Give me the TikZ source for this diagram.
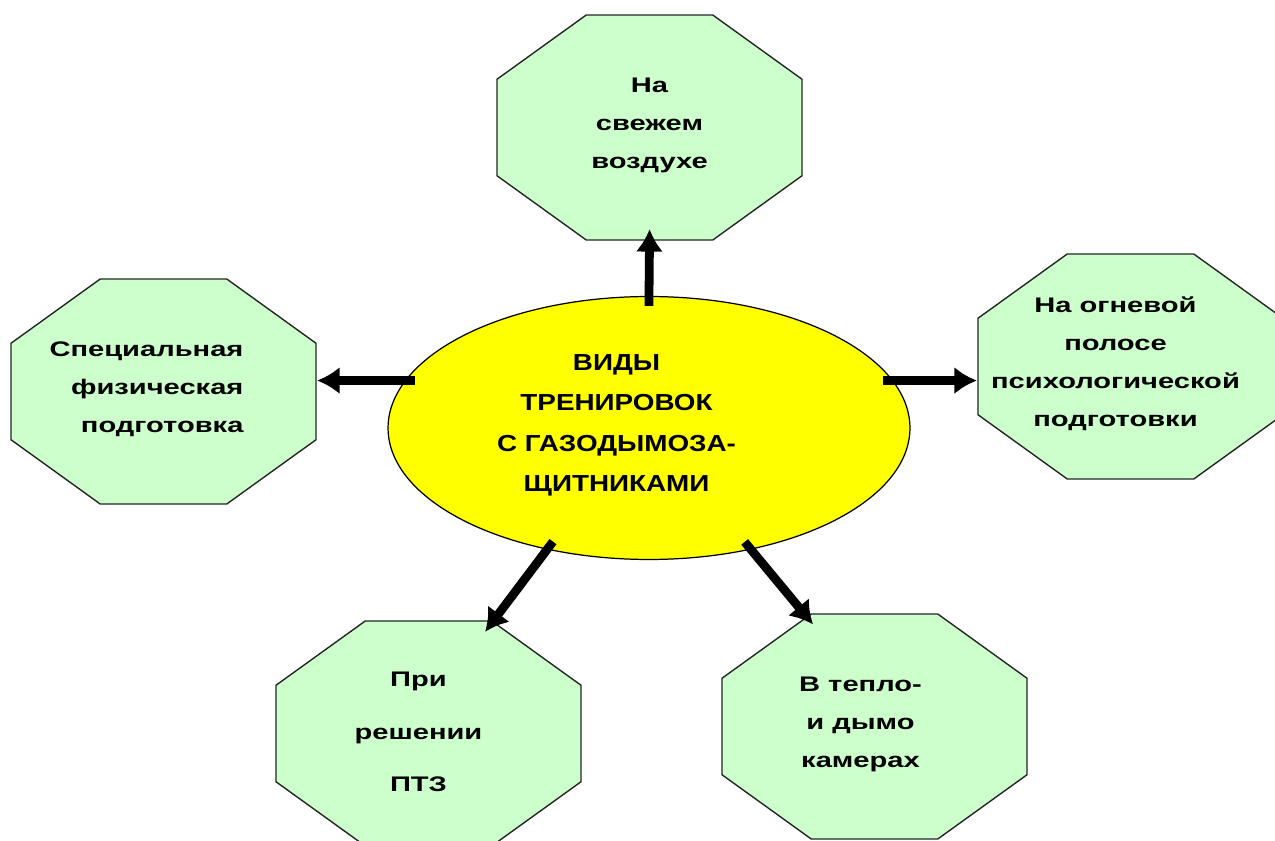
\documentclass[tikz,border=0pt]{standalone}
\usepackage{fontspec}
\setmainfont{Liberation Sans}
\newfontfamily\octfont{Liberation Sans}[FakeStretch=1.38]
\newfontfamily\hubfont{Liberation Sans}[FakeStretch=1.2]
\usetikzlibrary{shapes.geometric,arrows.meta}
\definecolor{octgreen}{RGB}{204,255,204}
\definecolor{hubyellow}{RGB}{255,255,0}
\newcommand{\nodelines}[3][c]{\raisebox{0.1cm}[\height][\depth]{\begin{tabular}{@{}#1@{}}#3\end{tabular}}\hspace*{#2}}
\tikzset{
  octa/.style={rectangle, minimum width=6.13cm, minimum height=4.53cm, inner sep=0pt,
    font=\octfont\bfseries\fontsize{12}{21.6}\selectfont,
    path picture={
      \draw[fill=octgreen, draw=black!85, line width=0.8pt]
        ([shift={(1.8cm,-0.4pt)}]path picture bounding box.north west) --
        ([shift={(-1.8cm,-0.4pt)}]path picture bounding box.north east) --
        ([shift={(-0.4pt,-1.3cm)}]path picture bounding box.north east) --
        ([shift={(-0.4pt,1.3cm)}]path picture bounding box.south east) --
        ([shift={(-1.8cm,0.4pt)}]path picture bounding box.south east) --
        ([shift={(1.8cm,0.4pt)}]path picture bounding box.south west) --
        ([shift={(0.4pt,1.3cm)}]path picture bounding box.south west) --
        ([shift={(0.4pt,-1.3cm)}]path picture bounding box.north west) -- cycle;
    }},
  hub/.style={ellipse, minimum width=10.44cm, minimum height=5.26cm,
    inner sep=0pt, draw=black, line width=0.7pt, fill=hubyellow,
    font=\hubfont\bfseries\fontsize{13.2}{22.8}\selectfont},
  link/.style={line width=5pt, shorten <=-0.2cm, -{Latex[length=0.45cm,width=0.55cm]}}
}

\begin{document}
\begin{tikzpicture}[x=0.02cm, y=-0.02cm]
      \useasboundingbox (0,0) rectangle (1275,841);
      \clip (0,0) rectangle (1275,841);
      \draw
        (649,428) node[hub] (types){\nodelines{1.3cm}{ВИДЫ\\ТРЕНИРОВОК\\С ГАЗОДЫМОЗА-\\ЩИТНИКАМИ}}
        (649.5,127.5) node[octa] (outdoor){\nodelines{0cm}{На\\свежем\\воздухе}}
        (163.5,391.5) node[octa] (physical){\nodelines[r]{0.68cm}{Специальная\\физическая\\подготовка}}
        (1130.5,366.5) node[octa] (firestrip){\nodelines{0.6cm}{На огневой\\полосе\\психологической\\подготовки}}
        (428.5,733.5) node[octa, font=\octfont\bfseries\fontsize{12}{30}\selectfont] (tasks){\nodelines{0.4cm}{При\\решении\\ПТЗ}}
        (874.5,726.5) node[octa] (chambers){\nodelines{0.56cm}{В тепло-\\и дымо\\камерах}};
      \begin{scope}[link]
        \draw[shorten >=-0.24cm] (types.north) to (outdoor.south);
        \draw (types.169) to (types.169 -| physical.east);
        \draw (types.11) to (types.11 -| firestrip.west);
        \draw[shorten >=-0.3cm] (types.230) to (tasks.60);
        \draw[shorten >=-0.3cm] (types.310) to (chambers.122);
      \end{scope}
    \end{tikzpicture}
\end{document}
